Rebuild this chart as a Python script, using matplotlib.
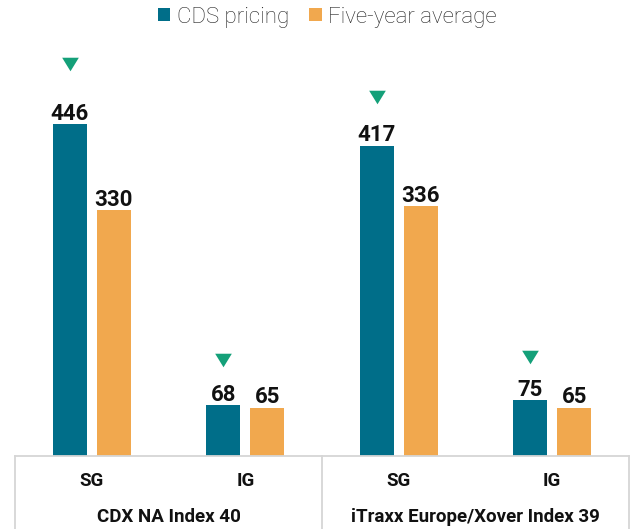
import matplotlib
matplotlib.use("Agg")
import matplotlib.pyplot as plt
from matplotlib import font_manager as fm

names = {f.name for f in fm.fontManager.ttflist}
FONT = "Roboto" if "Roboto" in names else "DejaVu Sans"
plt.rcParams['font.family'] = [FONT, 'DejaVu Sans']

categories = ["SG", "IG", "SG", "IG"]
index_names = ["CDX NA Index 40", "iTraxx Europe/Xover Index 39"]
cds_pricing = [446, 68, 417, 75]
five_year_avg = [330, 65, 336, 65]
marker_values = [527, 129, 482, 133]
series_names = ["CDS pricing", "Five-year average"]

TEAL = "#006E89"
ORANGE = "#F1A84E"
GREEN = "#14A079"
LINE = "#D6D6D6"
TXT = "#111111"

fig = plt.figure(figsize=(6.34, 5.29), dpi=100)
W, H = 634, 529
AX_TOP, AX_BOT = 40, 456
AX_H = AX_BOT - AX_TOP
ax = fig.add_axes([15 / W, (H - AX_BOT) / H, (629 - 15) / W, AX_H / H])

x = list(range(len(categories)))
bw = 34 / 153.5
off = 22 / 153.5
ax.bar([i - off for i in x], cds_pricing, width=bw, color=TEAL, label=series_names[0])
ax.bar([i + off for i in x], five_year_avg, width=bw, color=ORANGE, label=series_names[1])
for i in x:
    for xx, v in ((i - off, cds_pricing[i]), (i + off, five_year_avg[i])):
        ax.annotate(str(v), (xx, v), xytext=(0, 3.2), textcoords="offset points",
                    ha="center", va="baseline", fontsize=16, fontweight="bold", color=TXT)
tri = [(-8, 6.5), (8, 6.5), (0, -6.5), (-8, 6.5)]
ax.plot([i - off for i in x], marker_values, linestyle="none", marker=tri,
        markersize=12, color=GREEN, markeredgewidth=0)

ax.set_xlim(-0.5, 3.5)
ax.set_ylim(0, 559)
ax.axis("off")

# table lines below the axes
tr = ax.get_xaxis_transform()
bottom = -(H - AX_BOT) / AX_H - 0.01
for xv in (-0.5, 1.5, 3.5):
    ax.plot([xv, xv], [0, bottom], transform=tr, color=LINE, lw=1.3, clip_on=False)
ax.plot([-0.5, 3.5], [0, 0], transform=tr, color=LINE, lw=1.3, clip_on=False)
for i, c in enumerate(categories):
    ax.text(i, -(486 - AX_BOT) / AX_H, c, transform=tr, ha="center", va="baseline",
            fontsize=13.5, fontweight="bold", color=TXT)
for j, n in enumerate(index_names):
    ax.text(2 * j + 0.5, -(522 - AX_BOT) / AX_H, n, transform=tr, ha="center", va="baseline",
            fontsize=13.5, fontweight="bold", color=TXT)

leg = fig.legend(loc="center", bbox_to_anchor=(327.5 / W, 1 - 17 / H), ncol=2, frameon=False,
                 handlelength=0.55, handleheight=0.55, handletextpad=0.3, columnspacing=0.9,
                 borderpad=0, prop={"family": FONT, "weight": "light", "size": 16})
for t in leg.get_texts():
    t.set_color("#222222")

fig.savefig("out.png", dpi=100)
